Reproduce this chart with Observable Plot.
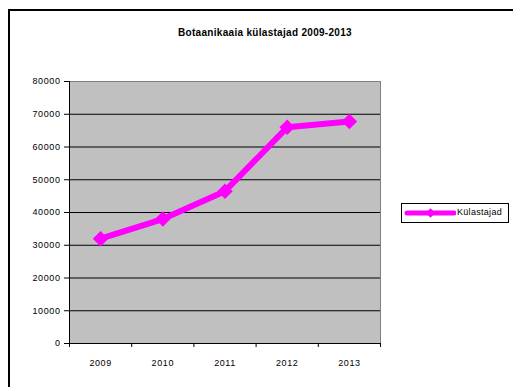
<!DOCTYPE html>
<html>
<head>
<meta charset="utf-8">
<script src="https://cdn.jsdelivr.net/npm/d3@7"></script>
<script src="https://cdn.jsdelivr.net/npm/@observablehq/plot@0.6"></script>
<style>
  html, body { margin: 0; padding: 0; background: #fff; overflow: hidden; }
  #wrap { position: relative; width: 513px; height: 387px; overflow: hidden; font-family: "Liberation Sans", Arial, sans-serif; }
  #border { position: absolute; left: 8px; top: 9px; width: 600px; height: 500px; border: 2px solid #000; }
  #title { position: absolute; left: 115px; width: 300px; top: 27px; text-align: center; font-weight: bold; font-size: 10px; letter-spacing: 0.3px; color: #000; }
  #chart { position: absolute; left: 0; top: 0; }
  #legend { position: absolute; left: 401px; top: 203px; width: 106px; height: 18px; border: 1px solid #000; background: #fff; }
  #legend svg { position: absolute; left: 0; top: 0; }
  #legend span { position: absolute; left: 55px; top: 3px; font-size: 9px; color: #000; letter-spacing: 0.3px; }
</style>
</head>
<body>
<div id="wrap">
  <div id="border"></div>
  <div id="chart"></div>
  <div id="title"></div>
  <div id="legend"></div>
</div>
<script>
const titleText = "Botaanikaaia külastajad 2009-2013";
const seriesName = "Külastajad";
const years = [2009, 2010, 2011, 2012, 2013];
const visitors = [32000, 38000, 46500, 66000, 67800];
const yTicks = [0, 10000, 20000, 30000, 40000, 50000, 60000, 70000, 80000];
const lineColor = "#FF00FF";

const data = years.map((y, i) => ({year: y, value: visitors[i]}));
const bounds = [years[0] - 0.5, ...years.map(y => y + 0.5)];
const innerGrid = yTicks.slice(1, -1);

const plot = Plot.plot({
  width: 513,
  height: 387,
  marginLeft: 69,
  marginRight: 133,
  marginTop: 81,
  marginBottom: 44,
  style: {fontFamily: "Liberation Sans, Arial, sans-serif", fontSize: "9px", background: "transparent", overflow: "visible", letterSpacing: "0.6px"},
  x: {domain: [bounds[0], bounds[bounds.length - 1]]},
  y: {domain: [yTicks[0], yTicks[yTicks.length - 1]]},
  marks: [
    Plot.frame({fill: "#C0C0C0", stroke: "#808080"}),
    Plot.gridY(innerGrid, {stroke: "#000", strokeOpacity: 1}),
    Plot.ruleY([yTicks[0]], {stroke: "#000"}),
    Plot.ruleX([bounds[0]], {stroke: "#000"}),
    Plot.axisY(yTicks, {tickSize: 5, tickPadding: 4, tickFormat: d => String(d), label: null, color: "#000", stroke: "#000"}),
    Plot.axisX(bounds, {tickSize: 4, tickFormat: () => "", label: null, stroke: "#000"}),
    Plot.axisX(years, {tickSize: 0, tickPadding: 16, tickFormat: d => String(d), label: null, color: "#000"}),
    Plot.line(data, {x: "year", y: "value", stroke: lineColor, strokeWidth: 6, strokeLinejoin: "miter"}),
    Plot.dot(data, {x: "year", y: "value", symbol: "diamond2", r: 7, fill: lineColor, stroke: "none"})
  ]
});
document.getElementById("chart").appendChild(plot);
document.getElementById("title").textContent = titleText;

const legend = document.getElementById("legend");
const ls = d3.create("svg").attr("width", 54).attr("height", 18);
ls.append("line").attr("x1", 5).attr("x2", 52).attr("y1", 9).attr("y2", 9)
  .attr("stroke", lineColor).attr("stroke-width", 5).attr("stroke-linecap", "round");
ls.append("path").attr("d", d3.symbol(d3.symbolDiamond2, 60)()).attr("transform", "translate(28.5,9)").attr("fill", lineColor);
legend.appendChild(ls.node());
const sp = document.createElement("span");
sp.textContent = seriesName;
legend.appendChild(sp);
</script>
</body>
</html>
